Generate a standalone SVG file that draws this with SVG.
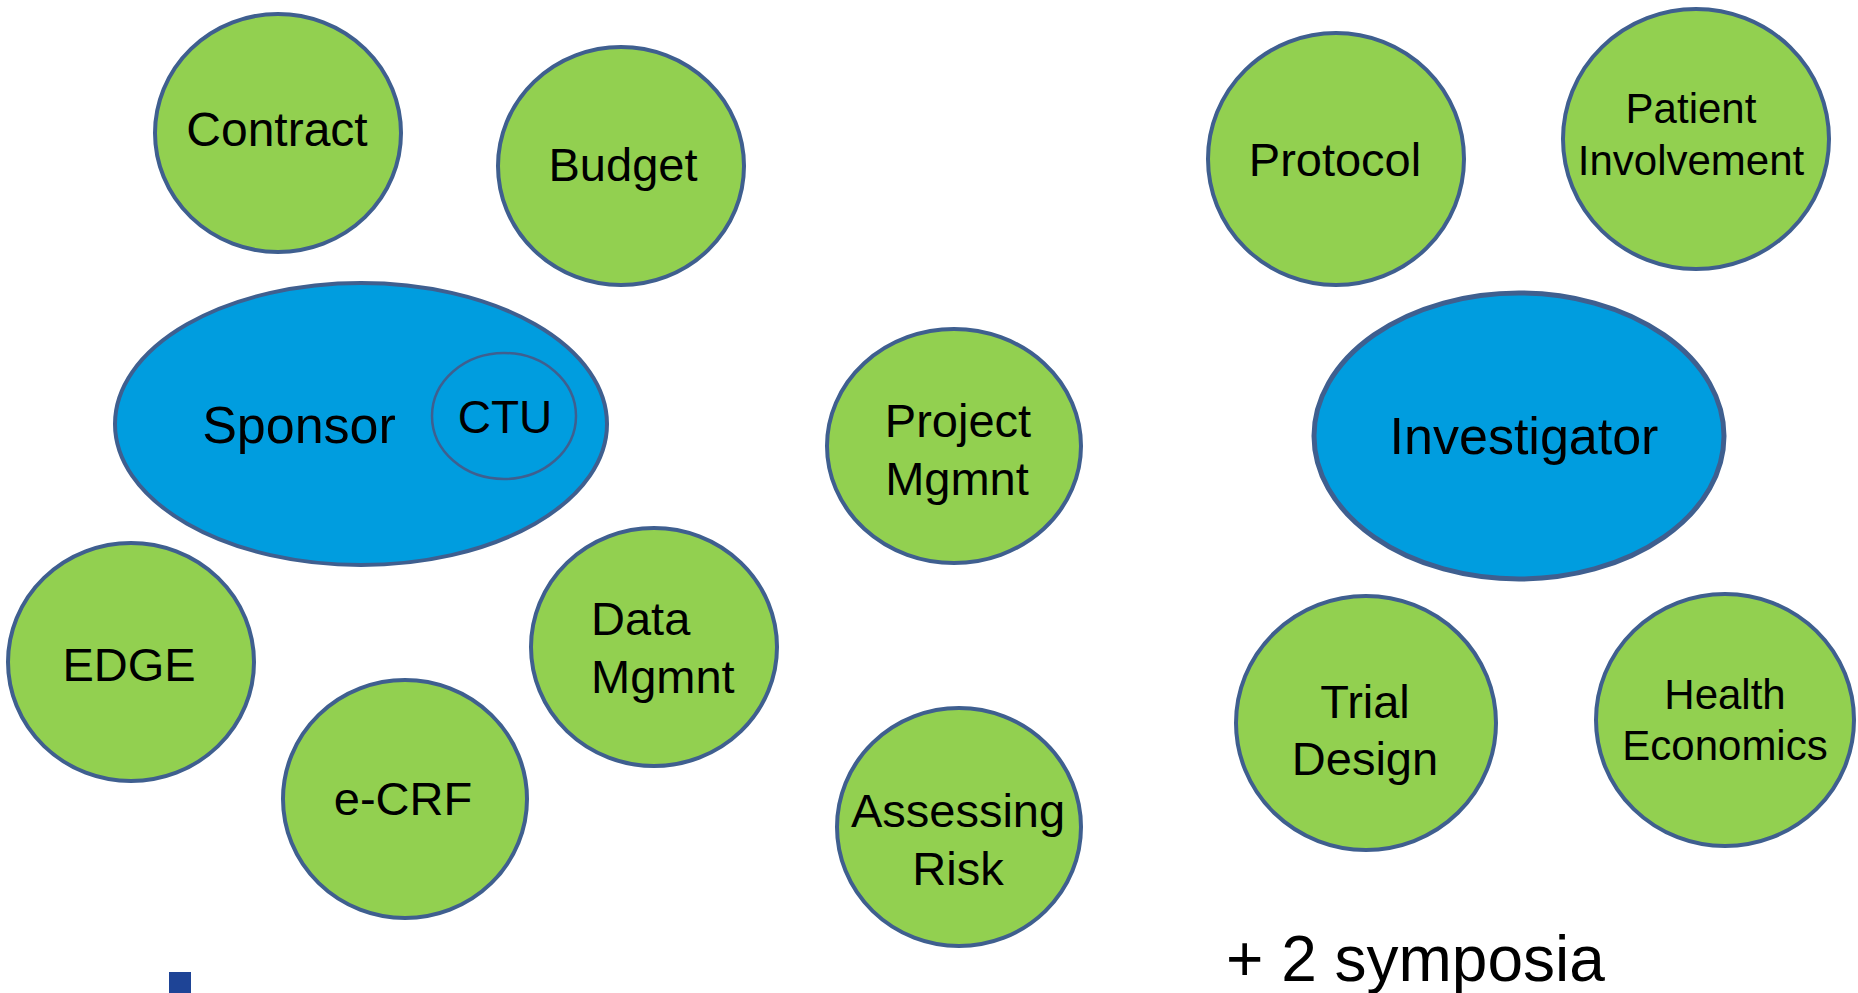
<svg xmlns="http://www.w3.org/2000/svg" width="1858" height="993" viewBox="0 0 1858 993">
  <style>
    .topic { fill: #92D050; stroke: #3F5F8F; stroke-width: 4; }
    .party { fill: #009DDF; stroke: #3F5F8F; stroke-width: 4; }
    .unit { fill: none; stroke: #3F5F8F; stroke-width: 2.5; }
    text { font-family: "Liberation Sans", Arial, sans-serif; fill: #000; text-anchor: middle; }
    .t47 { font-size: 47px; }
    .t42 { font-size: 42px; }
    .t52 { font-size: 52px; }
  </style>
  <rect width="1858" height="993" fill="#FFFFFF"/>

  <!-- no connectors: the topics float around the two parties -->
  <g id="connectors"/>

  <!-- sponsor side -->
  <g id="contract">
    <ellipse class="topic" cx="278" cy="133" rx="123" ry="119"/>
    <text class="t47" x="277" y="146" style="font-size:48px">Contract</text>
  </g>
  <g id="budget">
    <ellipse class="topic" cx="621" cy="166" rx="123" ry="119"/>
    <text class="t47" x="623" y="181">Budget</text>
  </g>
  <g id="sponsor">
    <ellipse class="party" cx="361" cy="424" rx="246" ry="141"/>
    <text class="t52" x="299" y="443">Sponsor</text>
  </g>
  <g id="ctu">
    <ellipse class="unit" cx="504" cy="416" rx="72" ry="63"/>
    <text x="505" y="433" style="font-size:46px">CTU</text>
  </g>
  <g id="edge">
    <ellipse class="topic" cx="131" cy="662" rx="123" ry="119"/>
    <text class="t47" x="129" y="681">EDGE</text>
  </g>
  <g id="ecrf">
    <ellipse class="topic" cx="405" cy="799" rx="122" ry="119"/>
    <text class="t47" x="403" y="815">e-CRF</text>
  </g>
  <g id="data-mgmnt">
    <ellipse class="topic" cx="654" cy="647" rx="123" ry="119"/>
    <text class="t47" x="591" y="635" style="text-anchor:start">Data</text>
    <text class="t47" x="591" y="693" style="text-anchor:start">Mgmnt</text>
  </g>
  <g id="project-mgmnt">
    <ellipse class="topic" cx="954" cy="446" rx="127" ry="117"/>
    <text class="t47" x="958" y="437">Project</text>
    <text class="t47" x="957" y="495">Mgmnt</text>
  </g>
  <g id="assessing-risk">
    <ellipse class="topic" cx="959" cy="827" rx="122" ry="119"/>
    <text class="t47" x="958" y="827">Assessing</text>
    <text class="t47" x="958" y="885">Risk</text>
  </g>

  <!-- investigator side -->
  <g id="protocol">
    <ellipse class="topic" cx="1336" cy="159" rx="128" ry="126"/>
    <text class="t47" x="1335" y="176">Protocol</text>
  </g>
  <g id="patient-involvement">
    <ellipse class="topic" cx="1696" cy="139" rx="133" ry="130"/>
    <text class="t42" x="1691" y="123">Patient</text>
    <text class="t42" x="1691" y="175">Involvement</text>
  </g>
  <g id="investigator">
    <ellipse class="party" cx="1519" cy="436" rx="205" ry="143" style="stroke-width:5"/>
    <text class="t52" x="1524" y="454">Investigator</text>
  </g>
  <g id="trial-design">
    <ellipse class="topic" cx="1366" cy="723" rx="130" ry="127"/>
    <text class="t47" x="1365" y="718">Trial</text>
    <text class="t47" x="1365" y="775">Design</text>
  </g>
  <g id="health-economics">
    <ellipse class="topic" cx="1725" cy="720" rx="129" ry="126"/>
    <text class="t42" x="1725" y="709">Health</text>
    <text class="t42" x="1725" y="760">Economics</text>
  </g>

  <!-- footnote and corner mark -->
  <text x="1226" y="981" style="font-size:64px;text-anchor:start">+ 2 symposia</text>
  <rect x="169" y="972" width="22" height="21" fill="#1E4496"/>
</svg>
